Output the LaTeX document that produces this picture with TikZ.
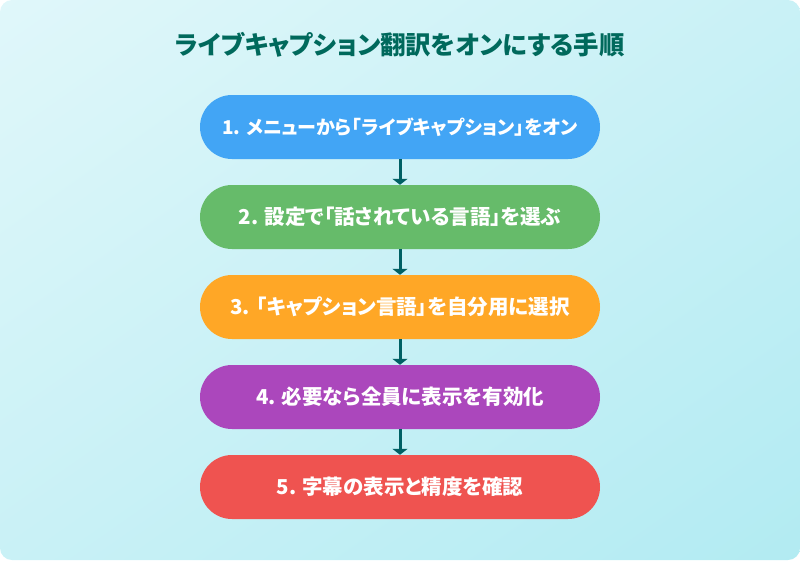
\documentclass[tikz,border=0pt]{standalone}
\usepackage{fontspec}
\newfontfamily\jp{Noto Sans CJK JP}[RawFeature=+palt]
\usetikzlibrary{arrows.meta,shadings}
\definecolor{bgA}{HTML}{E0F7FA}
\definecolor{bgB}{HTML}{B2EBF2}
\definecolor{bgM}{HTML}{C9F1F6}
\definecolor{titlec}{HTML}{00695C}
\definecolor{arrowc}{HTML}{006064}
\definecolor{cA}{HTML}{42A5F5}
\definecolor{cB}{HTML}{66BB6A}
\definecolor{cC}{HTML}{FFA726}
\definecolor{cD}{HTML}{AB47BC}
\definecolor{cE}{HTML}{EF5350}
\tikzset{
  stepbox/.style={rounded corners=32pt, minimum width=400pt, minimum height=64pt,
    inner sep=0pt, text=white, font=\jp\bfseries\fontsize{20.5pt}{24pt}\selectfont},
  conn/.style={draw=arrowc, line width=3pt, -{Triangle[width=15pt,length=6pt]}}
}
\begin{document}
\begin{tikzpicture}[x=1pt,y=-1pt]
\useasboundingbox (0,0) rectangle (800,560);
\shade[rounded corners=12pt, upper left=bgA, lower right=bgB, upper right=bgM, lower left=bgM] (0,0) rectangle (800,560);
\node[text=titlec, font=\jp\bfseries\fontsize{25.4pt}{30pt}\selectfont] (title) at (400,45) {ライブキャプション翻訳をオンにする手順};
\node[stepbox, fill=cA, font=\jp\bfseries\fontsize{19pt}{22pt}\selectfont] (s1) at (400,127) {1. メニューから「ライブキャプション」をオン};
\node[stepbox, fill=cB] (s2) at (400,217) {2. 設定で「話されている言語」を選ぶ};
\node[stepbox, fill=cC] (s3) at (400,307) {3. 「キャプション言語」を自分用に選択};
\node[stepbox, fill=cD] (s4) at (400,397) {4. 必要なら全員に表示を有効化};
\node[stepbox, fill=cE] (s5) at (400,487) {5. 字幕の表示と精度を確認};
\draw[conn] (s1.south) -- (s2.north);
\draw[conn] (s2.south) -- (s3.north);
\draw[conn] (s3.south) -- (s4.north);
\draw[conn] (s4.south) -- (s5.north);
\end{tikzpicture}
\end{document}
